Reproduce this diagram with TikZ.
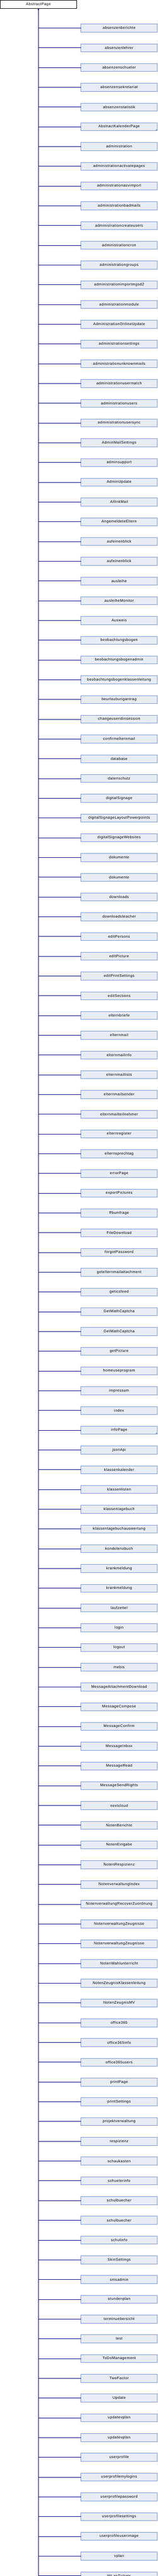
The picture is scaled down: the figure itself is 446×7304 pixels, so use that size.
\documentclass[tikz,border=0pt]{standalone}
\usepackage{fontspec}
\newfontfamily\diafont[LetterSpace=6]{Liberation Sans}
\usetikzlibrary{positioning,arrows.meta}
\definecolor{linienblau}{RGB}{0,0,128}
\definecolor{kastenfill}{RGB}{232,236,245}
\definecolor{kastenrand}{RGB}{122,150,208}

\begin{document}
\begin{tikzpicture}[>={Triangle[length=5pt,width=4pt]}, node distance=56pt, on grid,
    basis/.style={draw, line width=1pt, minimum width=216.5pt, minimum height=22.5pt,
      inner sep=0pt, outer sep=0pt, font=\diafont\fontsize{10.5}{12}\selectfont},
    wurzel/.style={basis, fill=white},
    klasse/.style={basis, draw=kastenrand, fill=kastenfill},
    linie/.style={draw=linienblau, line width=1pt}]
  \useasboundingbox (0,0) rectangle (446pt,-7304pt);
  \node[wurzel] (seite) at (108.75pt,-12pt) {AbstractPage};
  \coordinate[right=228.25pt of seite] (k0);
  \foreach \name [count=\i, remember=\i as \j (initially 0)] in {
      absenzenberichte, absenzenlehrer, absenzenschueler, absenzensekretariat,
      absenzenstatistik, AbstractKalenderPage, administration,
      administrationactivatepages, administrationasvimport, administrationbadmails,
      administrationcreateusers, administrationcron, administrationgroups,
      administrationimportmgsd2, administrationmodule, AdministrationOnlineUpdate,
      administrationsettings, administrationunknownmails, administrationusermatch,
      administrationusers, administrationusersync, AdminMailSettings, adminsupport,
      AdminUpdate, AllInkMail, AngemeldeteEltern, aufeinenblick, aufeinenblick,
      ausleihe, ausleiheMonitor, Ausweis, beobachtungsbogen, beobachtungsbogenadmin,
      beobachtungsbogenklassenleitung, beurlaubungantrag, changeuseridinsession,
      confirmelternmail, database, datenschutz, digitalSignage,
      digitalSignageLayoutPowerpoints, digitalSignageWebsites, dokumente, dokumente,
      downloads, downloadsteacher, editPersons, editPicture, editPrintSettings,
      editSections, elternbriefe, elternmail, elternmailinfo, elternmaillists,
      elternmailsender, elternmailteilnehmer, elternregister, elternsprechtag,
      errorPage, exportPictures, ffbumfrage, FileDownload, forgotPassword,
      getelternmailattachment, geticsfeed, GetMathCaptcha, GetMathCaptcha,
      getPicture, homeuseprogram, impressum, index, infoPage, jsonApi,
      klassenkalender, klassenlisten, klassentagebuch, klassentagebuchauswertung,
      kondolenzbuch, krankmeldung, krankmeldung, laufzettel, login, logout, mebis,
      MessageAttachmentDownload, MessageCompose, MessageConfirm, MessageInbox,
      MessageRead, MessageSendRights, nextcloud, NotenBerichte, NotenEingabe,
      NotenRespizienz, NotenverwaltungIndex, NotenverwaltungRecoverZuordnung,
      NotenverwaltungZeugnisse, NotenverwaltungZeugnisse, NotenWahlunterricht,
      NotenZeugnisKlassenleitung, NotenZeugnisMV, office365, office365info,
      office365users, printPage, printSettings, projektverwaltung, respizienz,
      schaukasten, schuelerinfo, schulbuecher, schulbuecher, schulinfo,
      SkinSettings, smsadmin, stundenplan, terminuebersicht, test, ToDoManagement,
      TwoFactor, Update, updatevplan, updatevplan, userprofile, userprofilemylogins,
      userprofilepassword, userprofilesettings, userprofileuserimage, vplan,
      WLanTickets} {
    \node[klasse, below=of k\j] (k\i) {\name};
    \draw[linie] (seite.south |- k\i.west) -- (k\i.west);
  }
  % Klassen mit weiteren Unterklassen
  \foreach \k in {6,72}
    \fill[kastenrand] (k\k.south east) -- ++(-6pt,0) -- ++(6pt,6pt) -- cycle;
  \draw[linie,->] (seite.south |- k130.west) -- (seite.south);
\end{tikzpicture}
\end{document}
